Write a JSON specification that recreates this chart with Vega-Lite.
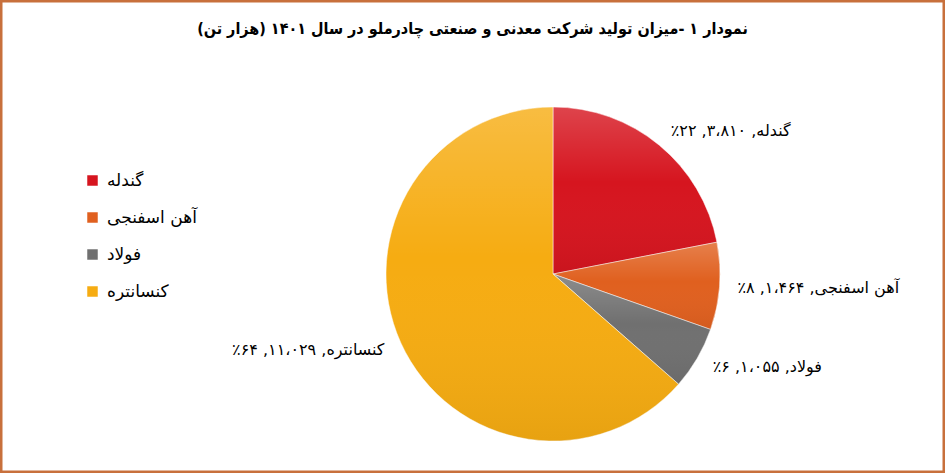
{
  "$schema": "https://vega.github.io/schema/vega-lite/v6.json",
  "width": 945,
  "height": 473,
  "autosize": {"type": "fit", "contains": "padding"},
  "padding": 0,
  "background": "white",
  "view": {"stroke": "#c8703c", "strokeWidth": 5},
  "title": {
    "text": "نمودار ۱ -میزان تولید شرکت معدنی و صنعتی چادرملو در سال ۱۴۰۱ (هزار تن)",
    "offset": -37,
    "anchor": "middle",
    "font": "DejaVu Sans Condensed",
    "fontSize": 16,
    "fontWeight": "bold",
    "color": "black"
  },
  "data": {
    "values": [
      {"category": "گندله", "value": 3810, "order": 1, "label": "گندله, ۳،۸۱۰, ۲۲٪‏"},
      {"category": "آهن اسفنجی", "value": 1464, "order": 2, "label": "آهن اسفنجی, ۱،۴۶۴, ۸٪‏"},
      {"category": "فولاد", "value": 1055, "order": 3, "label": "فولاد, ۱،۰۵۵, ۶٪‏"},
      {"category": "کنسانتره", "value": 11029, "order": 4, "label": "کنسانتره, ۱۱،۰۲۹, ۶۴٪‏"}
    ]
  },
  "encoding": {
    "theta": {"field": "value", "type": "quantitative", "stack": true},
    "order": {"field": "order", "type": "quantitative"}
  },
  "layer": [
    {
      "mark": {"type": "arc", "radius": 167, "x": 553, "y": 274, "stroke": "white", "strokeWidth": 0.5},
      "encoding": {
        "color": {
          "field": "category",
          "type": "nominal",
          "scale": {
            "domain": ["گندله", "آهن اسفنجی", "فولاد", "کنسانتره"],
            "range": ["#d6151f", "#e0601f", "#707070", "#f6ac12"]
          },
          "legend": {
            "orient": "none",
            "legendX": 84,
            "legendY": 172,
            "title": null,
            "symbolType": "square",
            "symbolSize": 110,
            "symbolStrokeWidth": 0,
            "labelFont": "DejaVu Sans",
            "labelFontSize": 17,
            "labelColor": "black",
            "labelOffset": 6,
            "rowPadding": 19,
            "padding": 0
          }
        }
      }
    },
    {
      "mark": {
        "type": "arc",
        "radius": 167,
        "x": 553,
        "y": 274,
        "fill": {
          "gradient": "linear",
          "x1": 0, "y1": 0, "x2": 0, "y2": 1,
          "stops": [
            {"offset": 0, "color": "rgba(255,255,255,0.2)"},
            {"offset": 0.45, "color": "rgba(255,255,255,0)"},
            {"offset": 1, "color": "rgba(0,0,0,0.06)"}
          ]
        }
      }
    },
    {
      "mark": {
        "type": "text",
        "radius": 185,
        "x": 553,
        "y": 274,
        "align": {"expr": "datum.order === 4 ? 'right' : 'left'"},
        "baseline": "middle",
        "font": "DejaVu Sans",
        "fontSize": 16,
        "color": "black"
      },
      "encoding": {
        "text": {"field": "label"}
      }
    }
  ]
}
